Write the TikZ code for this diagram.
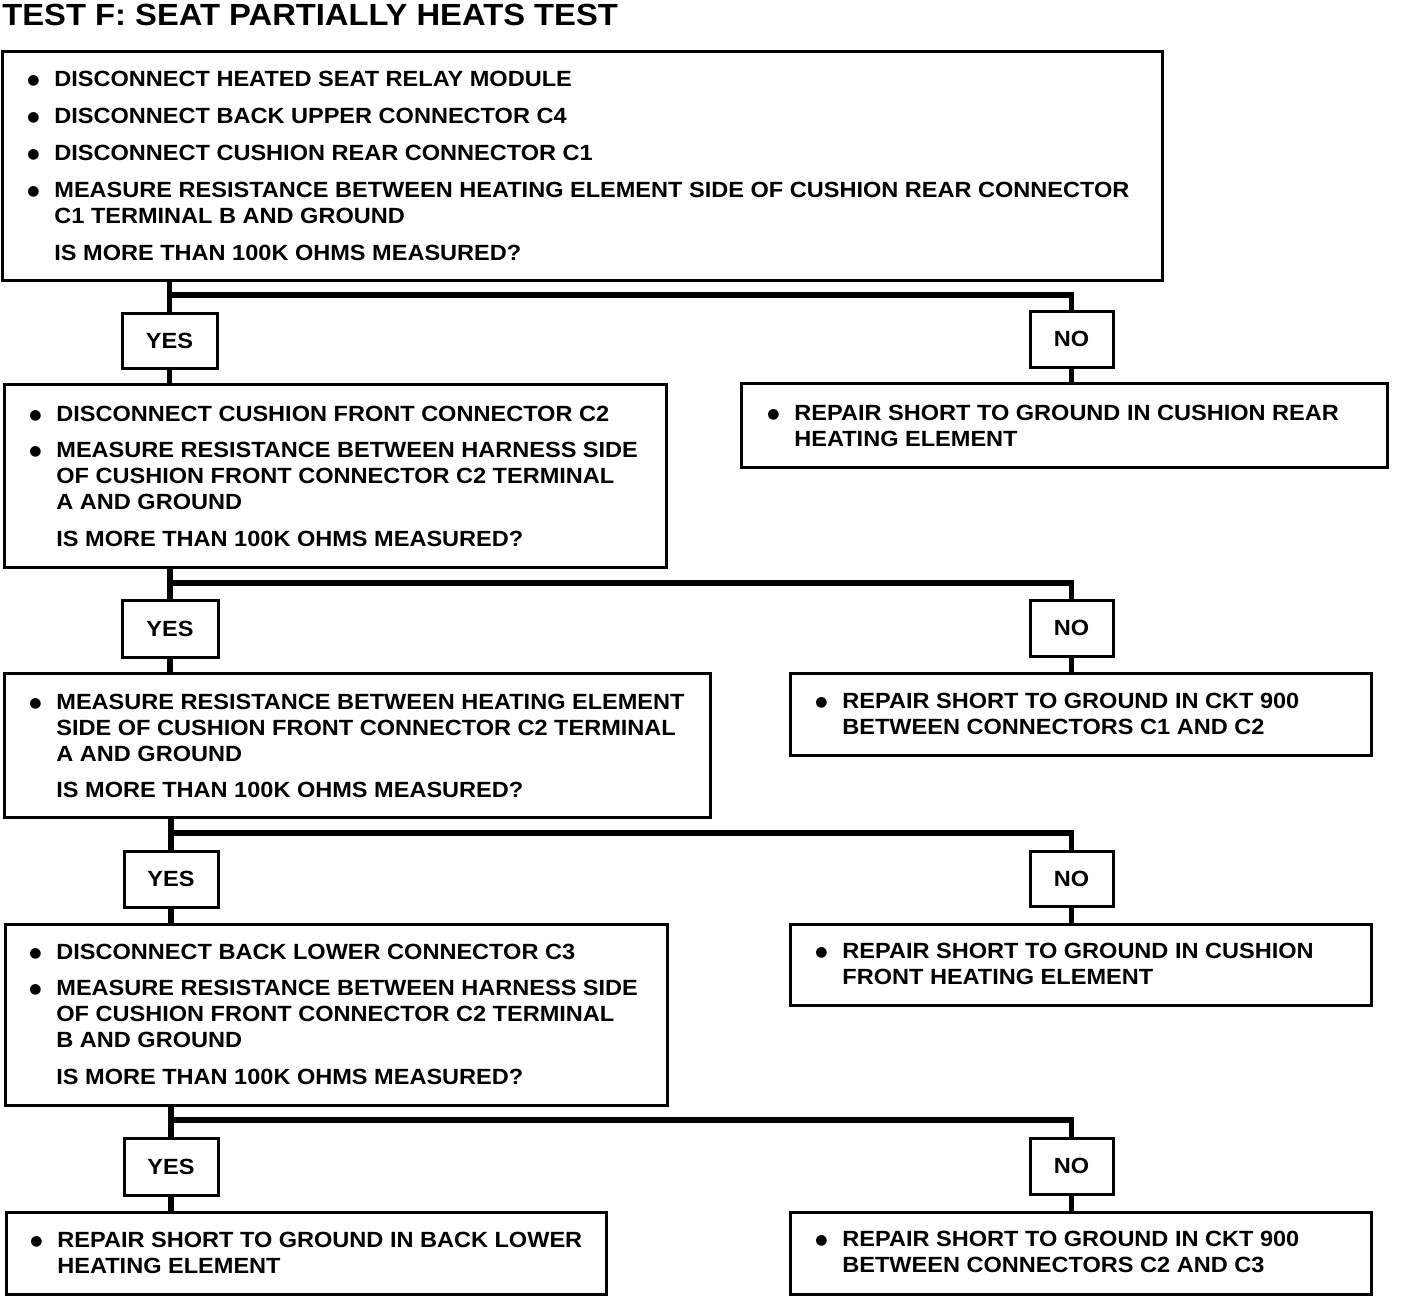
\documentclass[tikz,border=0pt]{standalone}
\usepackage{fontspec}
\setmainfont{Liberation Sans}[FakeStretch=1.07]
\newfontfamily\dotfont{DejaVu Sans}
\newcommand\itm{\makebox[13.5pt][l]{\raisebox{0.8pt}{\dotfont\fontsize{7}{7}\selectfont ●}}}
\newcommand\ind{\hspace*{13.5pt}}
\tikzstyle{stepbox}=[draw,line width=1.5pt,inner sep=0pt]
\tikzstyle{ansbox}=[stepbox,font=\bfseries\fontsize{11}{13}\selectfont]
\tikzstyle{txt}=[inner sep=0pt,anchor=base west,align=left,font=\bfseries\fontsize{11}{13}\selectfont]
\tikzstyle{link}=[line width=2.6pt]

\begin{document}
\begin{tikzpicture}[x=0.5pt,y=-0.5pt]
	\useasboundingbox (0,0) rectangle (1408,1298);
	\node[anchor=base west,inner sep=0pt,font=\bfseries\fontsize{15.3}{18}\selectfont] (title) at (2,25) {TEST F: SEAT PARTIALLY HEATS TEST};

	% question boxes (text nodes sit on their last baseline)
	\node[stepbox,minimum width=580pt,minimum height=114.5pt] (q1) at (582,165.5) {};
	\node[txt] (q1t) at (27,260) {\itm DISCONNECT HEATED SEAT RELAY MODULE\\[5.5pt]
	  \itm DISCONNECT BACK UPPER CONNECTOR C4\\[5.5pt]
	  \itm DISCONNECT CUSHION REAR CONNECTOR C1\\[5.5pt]
	  \itm MEASURE RESISTANCE BETWEEN HEATING ELEMENT SIDE OF CUSHION REAR CONNECTOR\\
	  \ind C1 TERMINAL B AND GROUND\\[5.5pt]
	  \ind IS MORE THAN 100K OHMS MEASURED?};
	\node[stepbox,minimum width=331pt,minimum height=91.5pt] (q2) at (335,475.5) {};
	\node[txt] (q2t) at (29,546) {\itm DISCONNECT CUSHION FRONT CONNECTOR C2\\[5pt]
	  \itm MEASURE RESISTANCE BETWEEN HARNESS SIDE\\
	  \ind OF CUSHION FRONT CONNECTOR C2 TERMINAL\\
	  \ind A AND GROUND\\[5.5pt]
	  \ind IS MORE THAN 100K OHMS MEASURED?};
	\node[stepbox,minimum width=353pt,minimum height=72pt] (q3) at (357,745) {};
	\node[txt] (q3t) at (29,797) {\itm MEASURE RESISTANCE BETWEEN HEATING ELEMENT\\
	  \ind SIDE OF CUSHION FRONT CONNECTOR C2 TERMINAL\\
	  \ind A AND GROUND\\[5pt]
	  \ind IS MORE THAN 100K OHMS MEASURED?};
	\node[stepbox,minimum width=331pt,minimum height=90.5pt] (q4) at (336,1014.5) {};
	\node[txt] (q4t) at (29,1084) {\itm DISCONNECT BACK LOWER CONNECTOR C3\\[5pt]
	  \itm MEASURE RESISTANCE BETWEEN HARNESS SIDE\\
	  \ind OF CUSHION FRONT CONNECTOR C2 TERMINAL\\
	  \ind B AND GROUND\\[5.5pt]
	  \ind IS MORE THAN 100K OHMS MEASURED?};

	% repair boxes
	\node[stepbox,minimum width=323pt,minimum height=42pt] (r1) at (1064,425) {};
	\node[txt] (r1t) at (767,446) {\itm REPAIR SHORT TO GROUND IN CUSHION REAR\\ \ind HEATING ELEMENT};
	\node[stepbox,minimum width=290.5pt,minimum height=41pt] (r2) at (1080.5,714) {};
	\node[txt] (r2t) at (815,734) {\itm REPAIR SHORT TO GROUND IN CKT 900\\ \ind BETWEEN CONNECTORS C1 AND C2};
	\node[stepbox,minimum width=290.5pt,minimum height=40.5pt] (r3) at (1080.5,964.5) {};
	\node[txt] (r3t) at (815,984) {\itm REPAIR SHORT TO GROUND IN CUSHION\\ \ind FRONT HEATING ELEMENT};
	\node[stepbox,minimum width=290.5pt,minimum height=41pt] (r4) at (1080.5,1253) {};
	\node[txt] (r4t) at (815,1272) {\itm REPAIR SHORT TO GROUND IN CKT 900\\ \ind BETWEEN CONNECTORS C2 AND C3};
	\node[stepbox,minimum width=300pt,minimum height=41pt] (f5) at (306,1253) {};
	\node[txt] (f5t) at (30,1273) {\itm REPAIR SHORT TO GROUND IN BACK LOWER\\ \ind HEATING ELEMENT};

	% answers
	\node[ansbox,minimum width=47.5pt,minimum height=27.5pt] (yes1) at (169.5,340.5) {YES};
	\node[ansbox,minimum width=41.5pt,minimum height=28pt] (no1) at (1071.5,339) {NO};
	\node[ansbox,minimum width=48pt,minimum height=28.5pt] (yes2) at (170,628.5) {YES};
	\node[ansbox,minimum width=41.5pt,minimum height=28pt] (no2) at (1071.5,628) {NO};
	\node[ansbox,minimum width=47pt,minimum height=28pt] (yes3) at (171,879) {YES};
	\node[ansbox,minimum width=41.5pt,minimum height=27.5pt] (no3) at (1071.5,878.5) {NO};
	\node[ansbox,minimum width=47pt,minimum height=28.5pt] (yes4) at (171,1166.5) {YES};
	\node[ansbox,minimum width=41.5pt,minimum height=28pt] (no4) at (1071.5,1166) {NO};

	\coordinate (j1) at (169.5,295);
	\coordinate (j2) at (170,583);
	\coordinate (j3) at (171,833);
	\coordinate (j4) at (171,1120);

	\draw[link] (q1.south -| yes1.north) -- (yes1.north);
	\draw[link] (j1) -| (no1.north);
	\draw[link] (yes1.south) -- (q2.north -| yes1.south);
	\draw[link] (no1.south) -- (r1.north -| no1.south);

	\draw[link] (q2.south -| yes2.north) -- (yes2.north);
	\draw[link] (j2) -| (no2.north);
	\draw[link] (yes2.south) -- (q3.north -| yes2.south);
	\draw[link] (no2.south) -- (r2.north -| no2.south);

	\draw[link] (q3.south -| yes3.north) -- (yes3.north);
	\draw[link] (j3) -| (no3.north);
	\draw[link] (yes3.south) -- (q4.north -| yes3.south);
	\draw[link] (no3.south) -- (r3.north -| no3.south);

	\draw[link] (q4.south -| yes4.north) -- (yes4.north);
	\draw[link] (j4) -| (no4.north);
	\draw[link] (yes4.south) -- (f5.north -| yes4.south);
	\draw[link] (no4.south) -- (r4.north -| no4.south);
\end{tikzpicture}
\end{document}
